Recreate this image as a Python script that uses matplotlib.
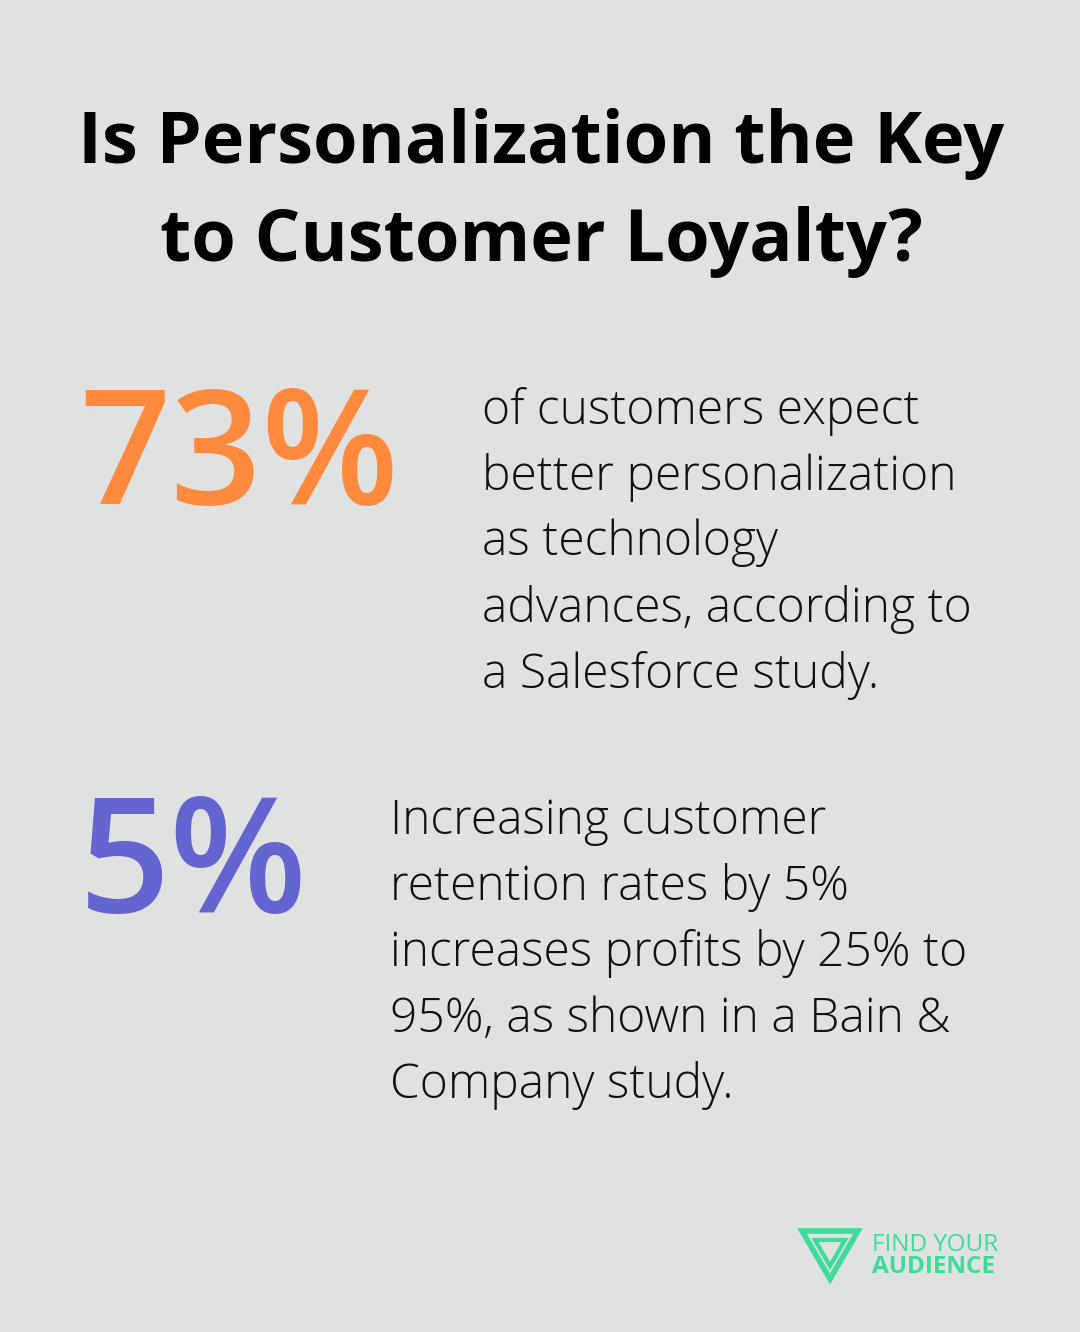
import matplotlib
matplotlib.use("Agg")
import matplotlib.pyplot as plt
from matplotlib.patches import Polygon

title_lines = ["Is Personalization the Key", "to Customer Loyalty?"]
stats = ["73%", "5%"]
stat_colors = ["#FF8A3D", "#6366D1"]
descs = [
    ["of customers expect", "better personalization", "as technology", "advances, according to", "a Salesforce study."],
    ["Increasing customer", "retention rates by 5%", "increases profits by 25% to", "95%, as shown in a Bain &", "Company study."],
]
brand = ["FIND YOUR", "AUDIENCE"]

W, H = 1080, 1332
fig = plt.figure(figsize=(W/100, H/100), dpi=100)
fig.patch.set_facecolor("#E0E2E1")
ax = fig.add_axes([0, 0, 1, 1])
ax.set_xlim(0, W); ax.set_ylim(H, 0); ax.axis("off")

for i, t in enumerate(title_lines):
    ax.text(541, 144 + i*98, t, ha="center", va="center", fontsize=51.8,
            fontweight="bold", family="Open Sans", color="#000000")

stat_x = [79, 79]
stat_y = [462, 870]
desc_x = [482, 390]
desc_y0 = [411, 822]
for s, c, x, y in zip(stats, stat_colors, stat_x, stat_y):
    ax.text(x, y, s, ha="left", va="center", fontsize=115, family="Open Sans",
            fontweight="semibold", color=c)
for lines, x, y0 in zip(descs, desc_x, desc_y0):
    for j, l in enumerate(lines):
        ax.text(x, y0 + j*66, l, ha="left", va="center", fontsize=34.6,
                family="Open Sans", fontweight="light", color="#111111")

g = "#3DDC97"
ax.add_patch(Polygon([[802, 1231], [858, 1231], [830, 1279]], closed=True,
                     fill=False, edgecolor=g, lw=4))
ax.add_patch(Polygon([[815, 1240], [845, 1240], [830, 1266]], closed=True,
                     fill=False, edgecolor=g, lw=3))
ax.text(872, 1245, brand[0], ha="left", va="center", fontsize=17.5, family="Open Sans", color=g)
ax.text(872, 1267, brand[1], ha="left", va="center", fontsize=17.5, family="Open Sans",
        fontweight="bold", color=g)

fig.savefig("out.png", dpi=100, facecolor=fig.get_facecolor())
